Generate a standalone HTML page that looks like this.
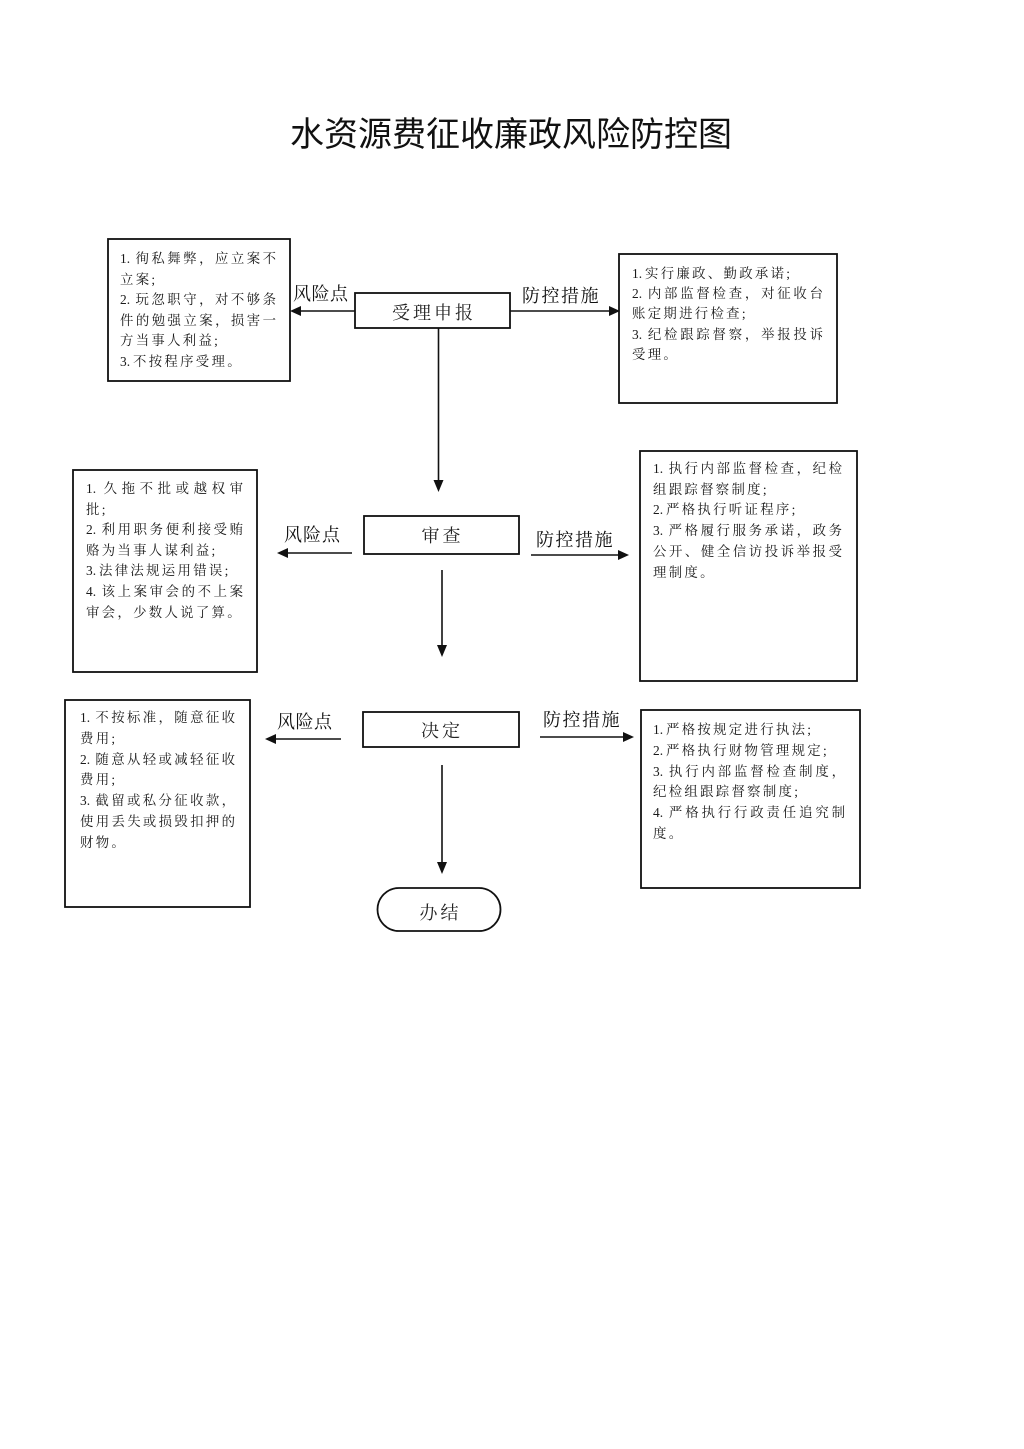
<!DOCTYPE html>
<html>
<head>
<meta charset="utf-8">
<style>
html,body{margin:0;padding:0;background:#fff;}
body{width:1024px;height:1449px;position:relative;overflow:hidden;}
.title{position:absolute;left:0;width:1022px;top:115px;text-align:center;font-family:"Liberation Sans","Noto Sans CJK SC",sans-serif;font-size:34px;line-height:40px;color:#111;}
.box{position:absolute;font-family:"Liberation Serif","Noto Serif CJK SC",serif;font-size:13.4px;color:#1a1a1a;}
.box div{white-space:nowrap;letter-spacing:2.3px;text-align:left;}
.box div.j{text-align:justify;text-align-last:justify;letter-spacing:0;}
.n{display:inline-block;letter-spacing:0;margin-right:3px;}
.lbl{position:absolute;font-family:"Liberation Serif","Noto Serif CJK SC",serif;font-size:18px;line-height:20px;color:#111;white-space:nowrap;}
.node{position:absolute;text-align:center;font-family:"Liberation Serif","Noto Serif CJK SC",serif;font-size:18px;line-height:20px;color:#222;letter-spacing:3px;}
</style>
</head>
<body>
<div class="title">水资源费征收廉政风险防控图</div>

<svg width="1024" height="1449" style="position:absolute;left:0;top:0" xmlns="http://www.w3.org/2000/svg">
<g fill="none" stroke="#111" stroke-width="1.8">
<rect x="108" y="239" width="182" height="142"/>
<rect x="355" y="293" width="155" height="35"/>
<rect x="619" y="254" width="218" height="149"/>
<rect x="73" y="470" width="184" height="202"/>
<rect x="364" y="516" width="155" height="38"/>
<rect x="640" y="451" width="217" height="230"/>
<rect x="65" y="700" width="185" height="207"/>
<rect x="363" y="712" width="156" height="35"/>
<rect x="641" y="710" width="219" height="178"/>
<rect x="377.5" y="888" width="123" height="43" rx="21.5" ry="21.5"/>
</g>
<g stroke="#111" stroke-width="1.6">
<line x1="355" y1="311" x2="300" y2="311"/>
<line x1="510" y1="311" x2="609" y2="311"/>
<line x1="438.5" y1="328" x2="438.5" y2="481"/>
<line x1="352" y1="553" x2="288" y2="553"/>
<line x1="531" y1="555" x2="618" y2="555"/>
<line x1="442" y1="570" x2="442" y2="646"/>
<line x1="341" y1="739" x2="276" y2="739"/>
<line x1="540" y1="737" x2="623" y2="737"/>
<line x1="442" y1="765" x2="442" y2="863"/>
</g>
<g fill="#111">
<polygon points="290,311 301,306 301,316"/>
<polygon points="620,311 609,306 609,316"/>
<polygon points="438.5,492 433.5,480 443.5,480"/>
<polygon points="277,553 288,548 288,558"/>
<polygon points="629,555 618,550 618,560"/>
<polygon points="442,657 437,645 447,645"/>
<polygon points="265,739 276,734 276,744"/>
<polygon points="634,737 623,732 623,742"/>
<polygon points="442,874 437,862 447,862"/>
</g>
</svg>

<div class="node" style="left:355px;width:158px;top:303px;">受理申报</div>
<div class="node" style="left:364px;width:157px;top:526px;">审查</div>
<div class="node" style="left:363px;width:158px;top:721px;">决定</div>
<div class="node" style="left:378px;width:125px;top:903px;">办结</div>

<div class="lbl" style="left:293px;top:284px;letter-spacing:0.5px;">风险点</div>
<div class="lbl" style="left:522px;top:286px;letter-spacing:1.5px;">防控措施</div>
<div class="lbl" style="left:284px;top:525px;letter-spacing:1px;">风险点</div>
<div class="lbl" style="left:536px;top:530px;letter-spacing:1.5px;">防控措施</div>
<div class="lbl" style="left:277px;top:712px;letter-spacing:0.5px;">风险点</div>
<div class="lbl" style="left:543px;top:710px;letter-spacing:1.5px;">防控措施</div>

<div class="box" style="left:120px;top:249px;width:156px;line-height:20.6px;">
<div class="j"><span class="n">1.</span>徇私舞弊，应立案不</div>
<div>立案;</div>
<div class="j"><span class="n">2.</span>玩忽职守，对不够条</div>
<div class="j">件的勉强立案，损害一</div>
<div>方当事人利益;</div>
<div><span class="n">3.</span>不按程序受理。</div>
</div>

<div class="box" style="left:632px;top:264px;width:191px;line-height:20.2px;">
<div><span class="n">1.</span>实行廉政、勤政承诺;</div>
<div class="j"><span class="n">2.</span>内部监督检查，对征收台</div>
<div>账定期进行检查;</div>
<div class="j"><span class="n">3.</span>纪检跟踪督察，举报投诉</div>
<div>受理。</div>
</div>

<div class="box" style="left:86px;top:479px;width:157px;line-height:20.6px;">
<div class="j"><span class="n">1.</span>久拖不批或越权审</div>
<div>批;</div>
<div class="j"><span class="n">2.</span>利用职务便利接受贿</div>
<div>赂为当事人谋利益;</div>
<div><span class="n">3.</span>法律法规运用错误;</div>
<div class="j"><span class="n">4.</span>该上案审会的不上案</div>
<div>审会，少数人说了算。</div>
</div>

<div class="box" style="left:653px;top:459px;width:189px;line-height:20.7px;">
<div class="j"><span class="n">1.</span>执行内部监督检查，纪检</div>
<div>组跟踪督察制度;</div>
<div><span class="n">2.</span>严格执行听证程序;</div>
<div class="j"><span class="n">3.</span>严格履行服务承诺，政务</div>
<div class="j">公开、健全信访投诉举报受</div>
<div>理制度。</div>
</div>

<div class="box" style="left:80px;top:708px;width:155px;line-height:20.8px;">
<div class="j"><span class="n">1.</span>不按标准，随意征收</div>
<div>费用;</div>
<div class="j"><span class="n">2.</span>随意从轻或减轻征收</div>
<div>费用;</div>
<div class="j"><span class="n">3.</span>截留或私分征收款，</div>
<div class="j">使用丢失或损毁扣押的</div>
<div>财物。</div>
</div>

<div class="box" style="left:653px;top:720px;width:192px;line-height:20.8px;">
<div><span class="n">1.</span>严格按规定进行执法;</div>
<div><span class="n">2.</span>严格执行财物管理规定;</div>
<div class="j"><span class="n">3.</span>执行内部监督检查制度，</div>
<div>纪检组跟踪督察制度;</div>
<div class="j"><span class="n">4.</span>严格执行行政责任追究制</div>
<div>度。</div>
</div>

</body>
</html>
